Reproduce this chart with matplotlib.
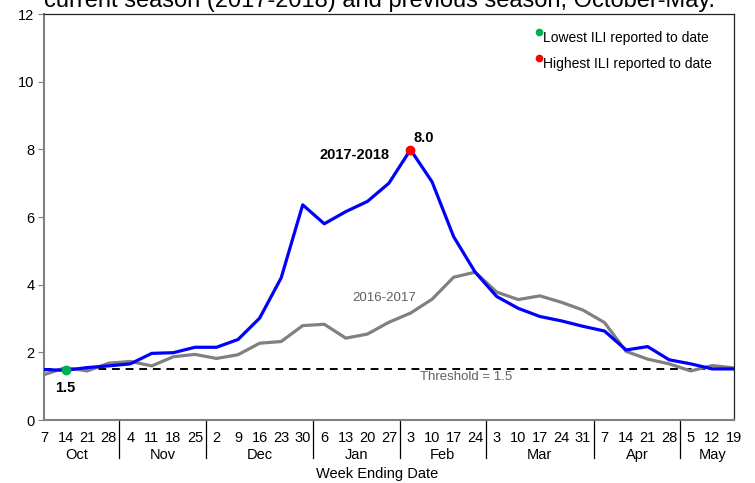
import matplotlib.pyplot as plt
import numpy as np

plt.rcParams['font.family'] = ['Liberation Sans', 'DejaVu Sans']

# Week ending days, grouped by month
day_labels = ['7', '14', '21', '28',
              '4', '11', '18', '25',
              '2', '9', '16', '23', '30',
              '6', '13', '20', '27',
              '3', '10', '17', '24',
              '3', '10', '17', '24', '31',
              '7', '14', '21', '28',
              '5', '12', '19']
months = ['Oct', 'Nov', 'Dec', 'Jan', 'Feb', 'Mar', 'Apr', 'May']
weeks_per_month = [4, 4, 5, 4, 4, 5, 4, 3]

ili_2017_2018 = [1.49, 1.47, 1.55, 1.60, 1.66, 1.97, 1.99, 2.15, 2.15, 2.38,
                 3.01, 4.20, 6.36, 5.80, 6.16, 6.46, 7.00, 7.99, 7.04, 5.42,
                 4.37, 3.65, 3.30, 3.06, 2.93, 2.77, 2.63, 2.07, 2.17, 1.78,
                 1.66, 1.51, 1.51]
ili_2016_2017 = [1.34, 1.55, 1.45, 1.68, 1.73, 1.60, 1.87, 1.94, 1.82, 1.93,
                 2.27, 2.32, 2.79, 2.83, 2.42, 2.54, 2.89, 3.16, 3.57, 4.22,
                 4.37, 3.78, 3.56, 3.67, 3.48, 3.25, 2.88, 2.03, 1.80, 1.66,
                 1.45, 1.61, 1.54]
threshold = 1.5

x = np.arange(len(day_labels))
lo = int(np.argmin(ili_2017_2018))
hi = int(np.argmax(ili_2017_2018))

fig = plt.figure(figsize=(7.55, 4.83), dpi=100)
ax = fig.add_axes([0.0583, 0.1304, 0.9137, 0.8406])

ax.plot(x, ili_2016_2017, color='#808080', lw=2.3, zorder=3)
ax.plot(x, ili_2017_2018, color='#0000ff', lw=2.3, zorder=4)
ax.axhline(threshold, color='black', ls=(0, (4, 3)), lw=1.4, zorder=2)
ax.plot(x[lo], ili_2017_2018[lo], 'o', color='#00b050', ms=6, zorder=5)
ax.plot(x[hi], ili_2017_2018[hi], 'o', color='#ff0000', ms=6, zorder=5)

ax.text(x[lo], ili_2017_2018[lo] - 0.52, '%.1f' % ili_2017_2018[lo], fontsize=10.5,
        fontweight='bold', ha='center', va='center')
ax.text(x[hi] + 0.6, ili_2017_2018[hi] + 0.35, '%.1f' % ili_2017_2018[hi], fontsize=10.5,
        fontweight='bold', ha='center', va='center')
ax.text(14.4, 7.84, '2017-2018', fontsize=10.5, fontweight='bold', ha='center', va='center')
ax.text(15.8, 3.6, '2016-2017', fontsize=9.5, color='#606060', ha='center', va='center')
ax.text(19.6, 1.28, 'Threshold = 1.5', fontsize=9.5, color='#606060', ha='center', va='center')

# legend-like notes
ax.plot(0.718, 0.956, 'o', color='#00b050', ms=4.5, transform=ax.transAxes, clip_on=False)
ax.text(0.723, 0.941, 'Lowest ILI reported to date', transform=ax.transAxes, fontsize=10,
        va='center', ha='left')
ax.plot(0.718, 0.892, 'o', color='#ff0000', ms=4.5, transform=ax.transAxes, clip_on=False)
ax.text(0.723, 0.878, 'Highest ILI reported to date', transform=ax.transAxes, fontsize=10,
        va='center', ha='left')

ax.set_xlim(0, len(x) - 1)
ax.set_ylim(0, 12)
ax.set_yticks(range(0, 13, 2))
ax.tick_params(axis='y', labelsize=10.5, length=4, color='#808080', pad=3)
ax.set_xticks(x)
ax.set_xticklabels(day_labels, fontsize=10.5)
ax.tick_params(axis='x', length=0, pad=8)

for side in ['left', 'bottom']:
    ax.spines[side].set_color('#808080')
    ax.spines[side].set_linewidth(1.5)
for side in ['top', 'right']:
    ax.spines[side].set_color('#222222')
    ax.spines[side].set_linewidth(0.9)

# month names and separators below the axis
start = 0
for i, (m, n) in enumerate(zip(months, weeks_per_month)):
    center = start + (n - 1) / 2
    ax.annotate(m, xy=(center, 0), xycoords=('data', 'axes fraction'),
                xytext=(0, -20), textcoords='offset points', fontsize=10.5,
                ha='center', va='top', annotation_clip=False)
    if i < len(months) - 1:
        sep = start + n - 0.5
        ax.plot([sep, sep], [0, -0.094], color='black', lw=0.9,
                transform=ax.get_xaxis_transform(), clip_on=False)
    start += n

fig.text(0.5, 0.0186, 'Week Ending Date', fontsize=10.5, ha='center', va='center')
fig.text(0.503, 0.975, 'current season (2017-2018) and previous season, October-May.',
         fontsize=17, ha='center', va='bottom')

fig.savefig('out.png', dpi=100)
